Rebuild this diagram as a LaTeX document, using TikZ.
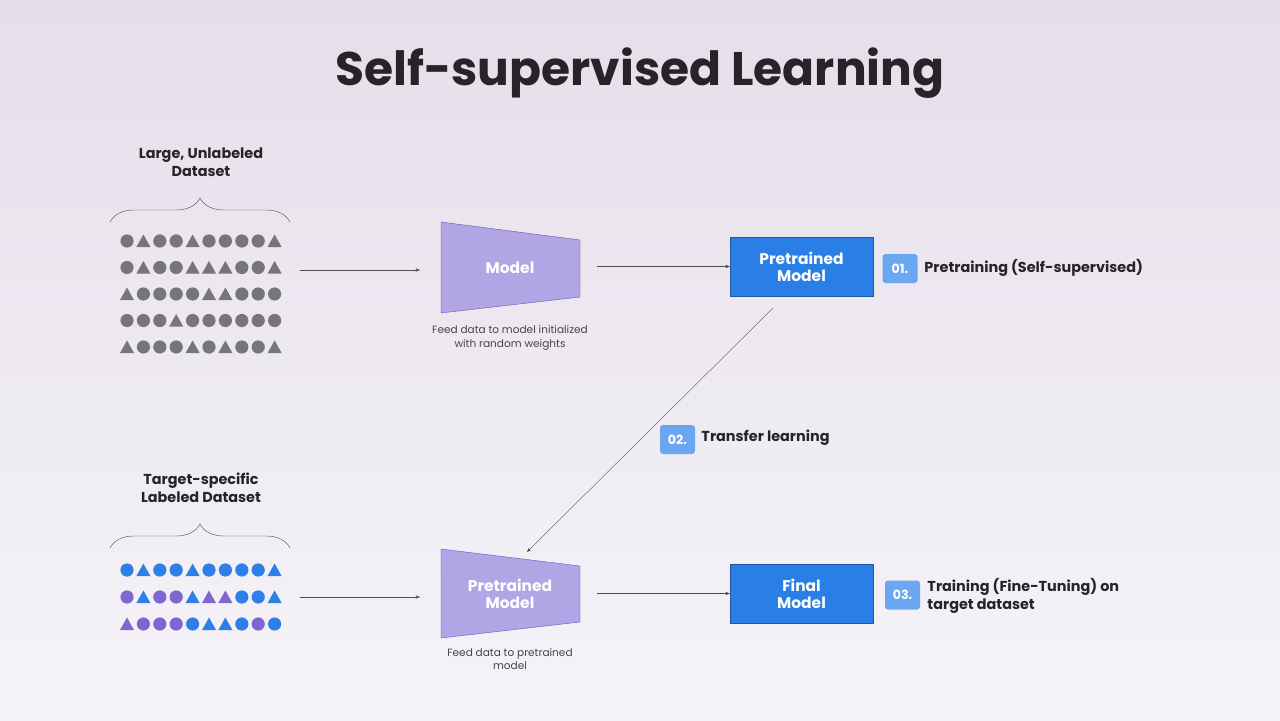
\documentclass[tikz,border=0pt]{standalone}
\usepackage{fontspec}
\setmainfont{Poppins}
\usetikzlibrary{arrows.meta,decorations.pathreplacing}
\definecolor{ink}{HTML}{26232B}
\definecolor{boxblue}{HTML}{2A7FE6}
\definecolor{badge}{HTML}{6BA6F0}
\definecolor{lilac}{HTML}{B1A5E5}
\definecolor{lilacline}{HTML}{5A4BB0}
\definecolor{dotgray}{HTML}{767579}
\definecolor{dotpurple}{HTML}{7F66D1}
\definecolor{dotblue}{HTML}{2E80E6}
\definecolor{bgtop}{HTML}{E6DEEA}
\definecolor{bgmid}{HTML}{F5F4F8}

\begin{document}
\begin{tikzpicture}[x=0.5mm, y=-0.5mm, >={Stealth[length=2.2mm]},
    flow/.style = {draw=black!70, line width=0.5pt, ->},
    trap/.style = {fill=lilac, draw=lilacline, line width=0.5pt},
    bluebox/.style = {fill=boxblue, draw=boxblue!70!black, line width=0.5pt, minimum width=71.5mm, minimum height=29.5mm, text=white, font=\fontsize{22}{24}\selectfont\bfseries, align=center},
    numbadge/.style = {fill=badge, rounded corners=1.5mm, minimum width=17.5mm, minimum height=14.5mm, text=white, font=\fontsize{18}{20}\selectfont\bfseries},
    steplabel/.style = {anchor=west, text=ink, font=\fontsize{20.5}{25}\selectfont\bfseries, align=left},
    setlabel/.style = {text=ink, font=\fontsize{20.5}{25}\selectfont\bfseries, align=center},
    note/.style = {text=ink!85, font=\fontsize{15}{19}\selectfont, align=center},
    brace/.style = {draw=ink!80, line width=0.6pt, decorate, decoration={brace, amplitude=12mm}}]

    % fond
    \shade[top color=bgtop, bottom color=bgmid] (0,0) rectangle (1280,720);
    \useasboundingbox (0,0) rectangle (1280,720);

    % titre
    \node[text=ink, font=\fontsize{67}{72}\selectfont\bfseries] (title) at (640,73) {Self-supervised Learning};

    % jeux de données
    \node[setlabel] (bigset) at (201,162) {Large, Unlabeled\\Dataset};
    \draw[brace] (110,222) -- (290,222);
    \node[setlabel] (tgtset) at (201,488) {Target-specific\\Labeled Dataset};
    \draw[brace] (110,548) -- (290,548);

    % grille grise: c = cercle, t = triangle
    \foreach \row [count=\r] in {{c,t,c,c,t,c,c,c,c,t},{c,t,c,c,t,t,t,c,c,t},{t,c,c,c,c,t,t,c,c,c},{c,c,c,t,c,c,c,c,c,c},{t,c,c,c,t,c,t,c,c,t}}{
        \foreach \s [count=\k] in \row {
            \pgfmathsetmacro{\px}{127 + (\k-1)*16.4}
            \pgfmathsetmacro{\py}{241 + (\r-1)*26.5}
            \if\s c \fill[dotgray] (\px,\py) circle (6.6);
            \else \fill[dotgray] (\px-7,\py+6) -- (\px+7,\py+6) -- (\px,\py-6.5) -- cycle; \fi
        }
    }
    % grille colorée: C/T bleu, c/t violet
    \foreach \row [count=\r] in {{C,T,C,C,T,C,C,C,C,T},{c,T,c,c,T,t,t,C,C,T},{t,c,c,c,C,T,T,C,c,C}}{
        \foreach \s [count=\k] in \row {
            \pgfmathsetmacro{\px}{127 + (\k-1)*16.4}
            \pgfmathsetmacro{\py}{570 + (\r-1)*27}
            \if\s C \fill[dotblue] (\px,\py) circle (6.6); \fi
            \if\s T \fill[dotblue] (\px-7,\py+6) -- (\px+7,\py+6) -- (\px,\py-6.5) -- cycle; \fi
            \if\s c \fill[dotpurple] (\px,\py) circle (6.6); \fi
            \if\s t \fill[dotpurple] (\px-7,\py+6) -- (\px+7,\py+6) -- (\px,\py-6.5) -- cycle; \fi
        }
    }

    % modèles
    \draw[trap] (441,222) -- (580,240) -- (580,297) -- (441,313) -- cycle;
    \node[text=white, font=\fontsize{22}{24}\selectfont\bfseries] (model) at (510,268) {Model};
    \draw[trap] (441,549) -- (580,566) -- (580,622) -- (441,638) -- cycle;
    \node[text=white, font=\fontsize{22}{24}\selectfont\bfseries, align=center] (pmodel) at (510,594) {Pretrained\\Model};
    \node[note] (feed1) at (510,338) {Feed data to model initialized\\with random weights};
    \node[note] (feed2) at (510,659) {Feed data to pretrained\\model};

    \node[bluebox] (pre) at (801.5,266.5) {Pretrained\\Model};
    \node[bluebox] (final) at (801.5,593.5) {Final\\Model};

    % étapes
    \node[numbadge] (b1) at (900,268.5) {01.};
    \node[steplabel] (s1) at (922,268) {Pretraining (Self-supervised)};
    \node[numbadge] (b2) at (677.5,439.5) {02.};
    \node[steplabel] (s2) at (699,438) {Transfer learning};
    \node[numbadge] (b3) at (902.5,595) {03.};
    \node[steplabel] (s3) at (925,596) {Training (Fine-Tuning) on\\target dataset};

    % flèches
    \coordinate (a1) at (300,270);
    \coordinate (a2) at (300,597);
    \coordinate (m1) at (597,266.5);
    \coordinate (m2) at (597,593.5);
    \draw[flow] (a1) -- (420,270);
    \draw[flow] (m1) -- (pre.west);
    \draw[flow] (773,308) -- (527,552);
    \draw[flow] (a2) -- (420,597);
    \draw[flow] (m2) -- (final.west);
\end{tikzpicture}
\end{document}
